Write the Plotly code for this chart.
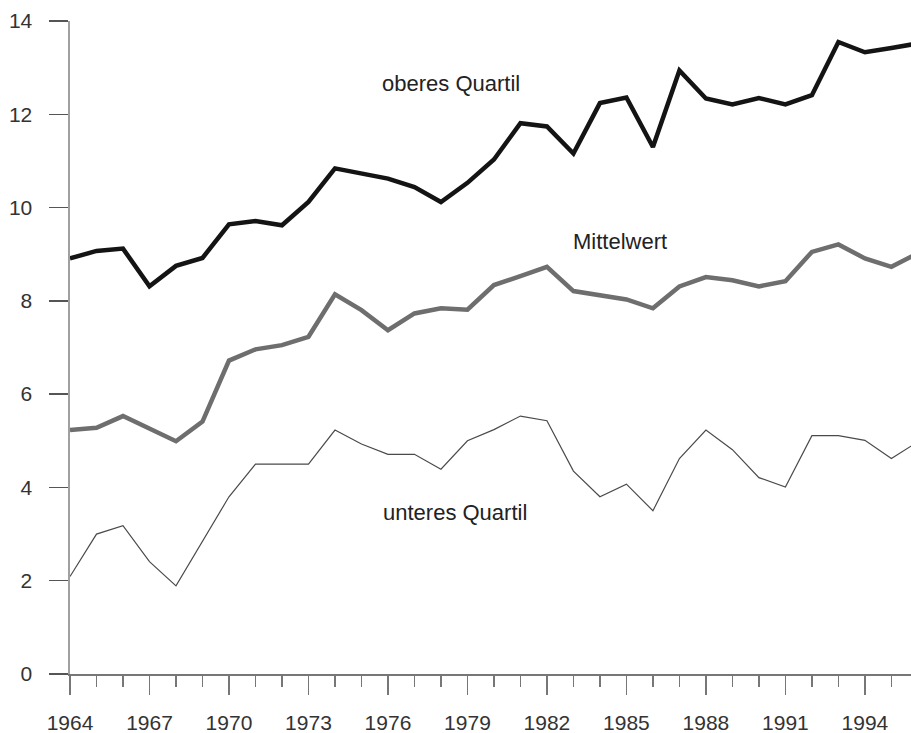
import plotly.graph_objects as go

years = list(range(1964, 1997))

oberes_quartil = [8.91, 9.07, 9.12, 8.31, 8.75, 8.92, 9.64, 9.71, 9.62, 10.12,
                  10.84, 10.73, 10.62, 10.44, 10.12, 10.53, 11.03, 11.81, 11.74, 11.16,
                  12.24, 12.36, 11.30, 12.94, 12.34, 12.21, 12.35, 12.21, 12.41, 13.55,
                  13.33, 13.42, 13.52]

mittelwert = [5.23, 5.28, 5.53, 5.26, 4.99, 5.41, 6.72, 6.96, 7.05, 7.23,
              8.14, 7.80, 7.37, 7.73, 7.84, 7.81, 8.34, 8.53, 8.73, 8.21,
              8.12, 8.03, 7.84, 8.31, 8.51, 8.44, 8.31, 8.42, 9.05, 9.21,
              8.91, 8.73, 9.02]

unteres_quartil = [2.09, 3.00, 3.18, 2.41, 1.89, 2.83, 3.80, 4.50, 4.50, 4.50,
                   5.23, 4.93, 4.71, 4.71, 4.39, 5.00, 5.24, 5.53, 5.43, 4.35,
                   3.80, 4.07, 3.50, 4.62, 5.23, 4.81, 4.21, 4.01, 5.11, 5.11,
                   5.01, 4.62, 4.98]

x_ticks = [1964, 1967, 1970, 1973, 1976, 1979, 1982, 1985, 1988, 1991, 1994]
y_ticks = [0, 2, 4, 6, 8, 10, 12, 14]

labels = [
    ("oberes Quartil", 1978.39, 12.66),
    ("Mittelwert", 1984.77, 9.28),
    ("unteres Quartil", 1978.54, 3.46),
]

FONT = "Liberation Sans, Arial, Helvetica, sans-serif"

fig = go.Figure()
fig.add_trace(go.Scatter(x=years, y=unteres_quartil, mode="lines",
                         line=dict(color="#4a4a4a", width=1.2), showlegend=False))
fig.add_trace(go.Scatter(x=years, y=mittelwert, mode="lines",
                         line=dict(color="#6e6e6e", width=4.5), showlegend=False))
fig.add_trace(go.Scatter(x=years, y=oberes_quartil, mode="lines",
                         line=dict(color="#141414", width=4.5), showlegend=False))

for text, xv, yv in labels:
    fig.add_annotation(x=xv, y=yv, text=text, showarrow=False, xref="x", yref="y",
                       font=dict(family=FONT, size=22, color="#222222"))

fig.update_layout(
    width=911, height=733,
    margin=dict(l=70, r=0, t=21, b=59),
    plot_bgcolor="white", paper_bgcolor="white",
    font=dict(family=FONT, size=21, color="#333333"),
    xaxis=dict(
        range=[1964, 1995.74],
        automargin=False,
        tickvals=x_ticks, ticktext=[str(v) for v in x_ticks],
        ticks="outside", ticklen=19, tickwidth=1.5, tickcolor="#777777",
        ticklabelstandoff=10,
        minor=dict(dtick=1, tick0=1964, ticks="outside", ticklen=11, tickwidth=1.5,
                   tickcolor="#777777", showgrid=False),
        showline=True, linecolor="#777777", linewidth=1.5,
        showgrid=False, zeroline=False,
        tickfont=dict(family=FONT, size=21, color="#333333"),
    ),
    yaxis=dict(
        range=[0, 14],
        automargin=False,
        tickvals=y_ticks,
        ticks="outside", ticklen=19, tickwidth=1.5, tickcolor="#555555",
        ticklabelstandoff=12,
        showline=True, linecolor="#a0a0a0", linewidth=2.5,
        showgrid=False, zeroline=False,
        tickfont=dict(family=FONT, size=21, color="#333333"),
    ),
)

fig.write_html(
    "out.html",
    config={"displayModeBar": False, "staticPlot": True},
    post_script="document.body.style.margin='0';document.body.style.overflow='hidden';",
)
